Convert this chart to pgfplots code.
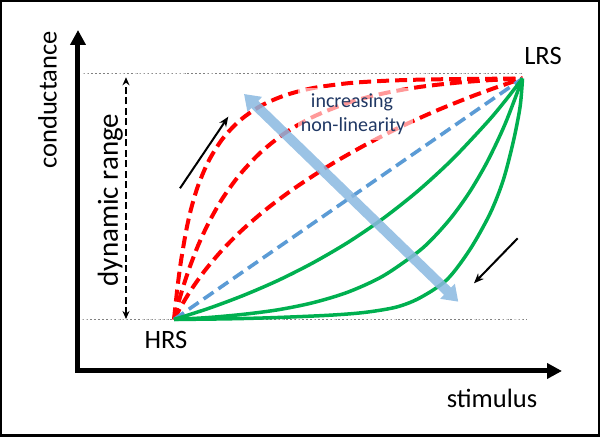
\documentclass[border=0pt]{standalone}
\usepackage{fontspec}
\setmainfont{Carlito}
\usepackage{pgfplots}
\pgfplotsset{compat=1.18}
\usetikzlibrary{arrows.meta}
\definecolor{nlred}{HTML}{FF0000}
\definecolor{nlblue}{HTML}{5B9BD5}
\definecolor{nlgreen}{HTML}{00B050}
\definecolor{nlnavy}{HTML}{203864}
\definecolor{bigarrow}{RGB}{138,184,224}
\begin{document}
\begin{tikzpicture}
\begin{axis}[
  scale only axis, width=242pt, height=170.5pt,
  xmin=0, xmax=484, ymin=0, ymax=341,
  axis lines=left,
  axis line style={line width=2.5pt, line cap=rect},
  x axis line style={-{Triangle[length=7.5pt,width=7.5pt]}},
  y axis line style={-{Triangle[length=7.5pt,width=7.5pt]}},
  xtick=\empty, ytick=\empty,
  xlabel={stimulus}, ylabel={conductance},
  label style={font=\fontsize{13.25}{16}\selectfont},
  xlabel style={at={(axis description cs:0.8554,-0.1085)}, anchor=base},
  ylabel style={at={(axis description cs:-0.0444,0.7947)}, anchor=base},
  clip=false,
  every axis plot/.append style={smooth, tension=0.5},
]
% outer frame
\draw[line width=1.25pt] (axis cs:-76.75,-64.75) rectangle (axis cs:520.75,369.75);

% HRS / LRS levels
\addplot[gray, line width=0.5pt, dash pattern=on 1pt off 1pt] coordinates {(5,297) (444,297)};
\addplot[gray, line width=0.5pt, dash pattern=on 1pt off 1pt] coordinates {(4,51) (449,51)};

% concave curves (red, dashed)
\addplot[nlred, line width=2pt, dash pattern=on 6pt off 3pt] coordinates {
  (96,51.5) (99.5,84.0) (103.0,110.0) (108.2,140.4) (113.4,163.3) (120.4,186.2)
  (130.9,210.5) (144.8,232.5) (162.2,250.8) (183.1,265.3) (207.5,275.8) (235.4,283.0)
  (270.3,287.8) (305.1,290.1) (340.0,291.3) (374.8,291.9) (409.7,292.2) (444.5,292.5)};
\addplot[nlred, line width=2pt, dash pattern=on 6pt off 3pt] coordinates {
  (96,51.5) (99.5,64.8) (104.7,82.8) (111.7,103.8) (120.4,126.2) (130.9,148.7)
  (144.8,173.0) (162.2,196.9) (183.1,219.0) (207.5,238.3) (235.4,254.3) (270.3,268.3)
  (305.1,277.5) (340.0,283.8) (374.8,287.9) (409.7,290.7) (444.5,292.5)};
\addplot[nlred, line width=2pt, dash pattern=on 6pt off 3pt] coordinates {
  (96,51.5) (103.0,64.5) (113.4,81.6) (127.4,101.1) (144.8,121.6) (165.7,142.4)
  (190.1,163.2) (218.0,183.8) (252.8,206.4) (287.7,226.3) (322.5,244.1) (357.4,259.9)
  (392.2,274.0) (420.1,284.2) (444.5,292.5)};
% linear (blue, dashed)
\addplot[nlblue, line width=1.8pt, dash pattern=on 6pt off 3pt] coordinates {(96,51.5) (444.5,292.5)};
% convex curves (green)
\addplot[nlgreen, line width=1.75pt] coordinates {
  (96,51.5) (130.9,62.7) (165.7,75.7) (200.6,90.8) (235.4,108.4) (270.3,128.8)
  (305.1,152.5) (340.0,180.1) (374.8,212.1) (409.7,249.3) (427.1,270.1) (444.5,292.5)};
\addplot[nlgreen, line width=1.75pt] coordinates {
  (96,51.5) (130.9,53.5) (165.7,56.7) (200.6,61.3) (235.4,68.4) (270.3,79.0)
  (305.1,95.0) (340.0,119.1) (357.4,135.4) (374.8,155.4) (392.2,179.9) (409.7,210.1)
  (427.1,247.0) (444.5,292.5)};
\addplot[nlgreen, line width=1.75pt] coordinates {
  (96,51.5) (152.1,52.2) (197.1,53.4) (252.1,55.8) (287.7,58.7) (318.7,64.0)
  (342.0,73.2) (368.9,91.3) (391.9,121.4) (412.1,157.5) (425.3,191.0) (435.4,229.8)
  (442.1,264.3) (444.5,292.5)};

% label box
\fill[white, fill opacity=0.6] (axis cs:220,231) rectangle (axis cs:335,283);
\node[nlnavy, anchor=base, font=\fontsize{10}{12}\selectfont] at (axis cs:274,263) {increasing};
\node[nlnavy, anchor=base, font=\fontsize{10}{12}\selectfont] at (axis cs:275,239.3) {non-linearity};

% dynamic range
\draw[line width=0.9pt, dash pattern=on 3.5pt off 1.75pt,
  {Stealth[length=4pt,width=3.5pt]}-{Stealth[length=4pt,width=3.5pt]}]
  (axis cs:48,52) -- (axis cs:48,293.7);
\node[rotate=90, anchor=base, font=\fontsize{14.5}{17}\selectfont] at (axis cs:40,171) {dynamic range};

\node[anchor=base, font=\fontsize{13.25}{16}\selectfont] at (axis cs:88,22) {HRS};
\node[anchor=base, font=\fontsize{13.25}{16}\selectfont] at (axis cs:465,306) {LRS};

% small direction arrows
\draw[line width=1pt, -{Stealth[length=5pt,width=4pt]}] (axis cs:102,182.7) -- (axis cs:150.3,254.3);
\draw[line width=1pt, -{Stealth[length=5pt,width=4pt]}] (axis cs:439.7,132.7) -- (axis cs:396,87.7);

\coordinate (bA) at (axis cs:166,277);
\coordinate (bB) at (axis cs:380.3,69.3);
\end{axis}
\begin{scope}[transparency group, opacity=0.85]
\draw[bigarrow, line width=5pt,
  {Triangle[length=7.5pt,width=10pt]}-{Triangle[length=7.5pt,width=10pt]}] (bA) -- (bB);
\end{scope}
\end{tikzpicture}
\end{document}
